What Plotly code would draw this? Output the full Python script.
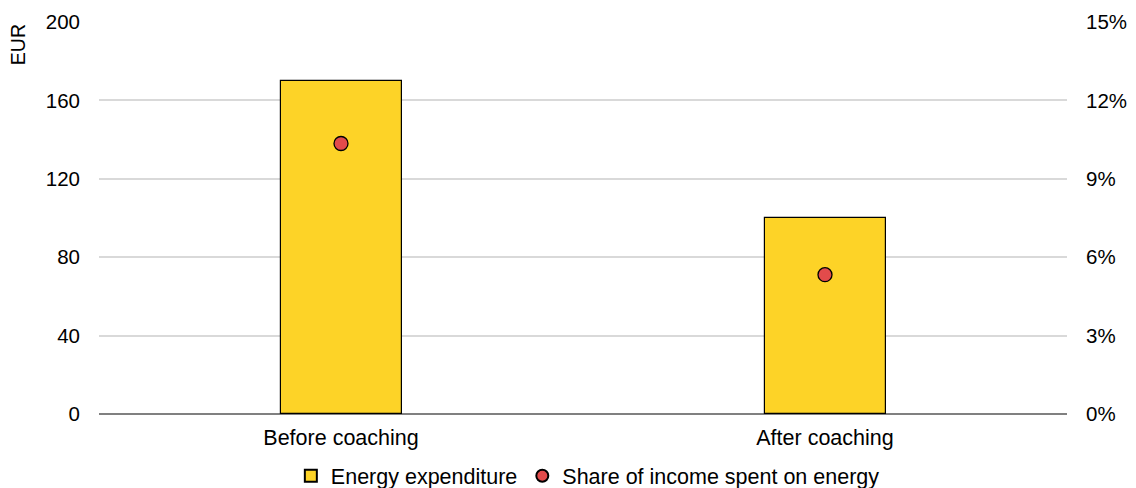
import plotly.graph_objects as go

categories = ["Before coaching", "After coaching"]
energy_expenditure = [170, 100]          # EUR
income_share = [10.35, 5.33]             # % of income spent on energy

left_ticks = [0, 40, 80, 120, 160, 200]
right_ticks = [0, 3, 6, 9, 12, 15]
right_tick_labels = [f"{v}%" for v in right_ticks]

FONT = "Liberation Sans, Arial, sans-serif"

fig = go.Figure()
fig.add_trace(go.Bar(
    x=categories, y=energy_expenditure, name="Energy expenditure",
    marker=dict(color="#FDD327", line=dict(color="#000000", width=1.2)),
    width=0.25,
))
fig.add_trace(go.Scatter(
    x=categories, y=income_share, name="Share of income spent on energy",
    mode="markers", yaxis="y2",
    marker=dict(color="#E24B4B", size=14, line=dict(color="#000000", width=1.3)),
))

fig.update_layout(
    width=1136, height=488,
    margin=dict(l=99, r=69, t=22, b=74, autoexpand=False),
    paper_bgcolor="white", plot_bgcolor="white",
    font=dict(family=FONT, size=20.5, color="#000000"),
    showlegend=True,
    legend=dict(orientation="h", x=0.505, xanchor="center",
                yref="container", y=0.025, yanchor="middle",
                font=dict(size=21.5), itemsizing="constant", itemwidth=30),
    bargap=0,
    xaxis=dict(showgrid=False, showline=False, ticks="", tickfont=dict(size=21.5),
               ticklabelstandoff=8),
    yaxis=dict(range=[0, 200], tickvals=left_ticks, showgrid=True, gridcolor="#D9D9D9",
               gridwidth=1.5, zeroline=True, zerolinecolor="#808080", zerolinewidth=1.5,
               ticks="", ticklabelstandoff=18, showline=False),
    yaxis2=dict(range=[0, 15], tickvals=right_ticks, ticktext=right_tick_labels,
                overlaying="y", side="right", showgrid=False, zeroline=False,
                ticks="", ticklabelstandoff=18, showline=False),
    annotations=[dict(text="EUR", textangle=-90, xref="paper", yref="paper",
                      x=-0.084, y=1.0, xanchor="center", yanchor="top",
                      showarrow=False, font=dict(size=19.5))],
)

fig.write_html("out.html")
